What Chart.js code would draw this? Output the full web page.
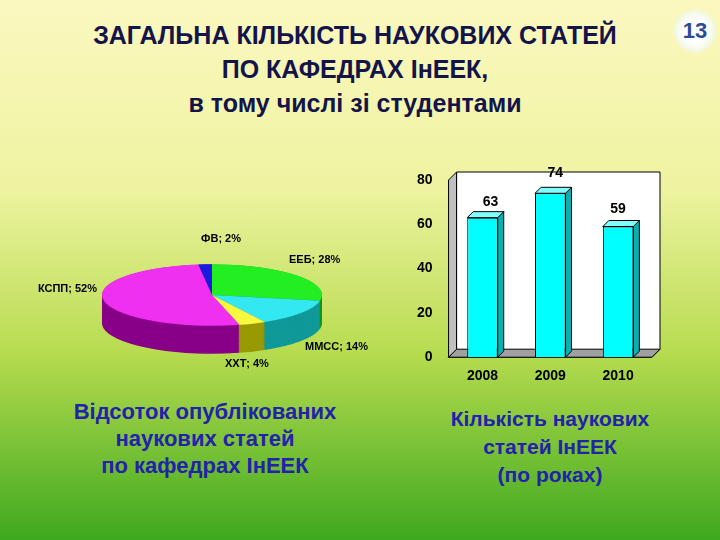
<!DOCTYPE html><html><head><meta charset="utf-8">
<script src="https://cdn.jsdelivr.net/npm/chart.js"></script>
<style>
body{margin:0;width:720px;height:540px;overflow:hidden;font-family:"Liberation Sans",Arial,sans-serif;}
#bg{position:absolute;left:0;top:0;width:720px;height:540px;background:linear-gradient(#fbf8c0 0%,#eef3a0 35%,#b8dc50 65%,#3ea81e 100%);}
.t{position:absolute;color:#14144a;font-weight:bold;text-align:center;white-space:nowrap}
#num{position:absolute;left:674px;top:10px;width:42px;height:42px;border-radius:50%;background:radial-gradient(#fff 40%,#e0f0c0);color:#2a4a9a;font:bold 22px "Liberation Sans";text-align:center;line-height:42px}
</style></head><body><div id="bg"></div>
<div class="t" style="left:20px;width:670px;top:18px;font-size:25px;line-height:34px">ЗАГАЛЬНА КІЛЬКІСТЬ НАУКОВИХ СТАТЕЙ<br>ПО КАФЕДРАХ ІнЕЕК,<br>в тому числі зі студентами</div>
<div id="num">13</div>
<div class="t" style="left:40px;width:330px;top:398px;font-size:22px;line-height:27px;color:#2222aa">Відсоток опублікованих<br>наукових статей<br>по кафедрах ІнЕЕК</div>
<div class="t" style="left:400px;width:300px;top:405px;font-size:21px;line-height:28px;color:#2222aa">Кількість наукових<br>статей ІнЕЕК<br>(по роках)</div>
<div style="position:absolute;left:0px;top:185px;width:424px;height:220px"><canvas id="pie"></canvas></div>
<div style="position:absolute;left:395px;top:160px;width:290px;height:228px"><canvas id="bar"></canvas></div>
<script>
const pieLabels=["ФВ","ЕЕБ","ММСС","ХХТ","КСПП"];
const pieValues=[2,28,14,4,52];
const pieColors=["#1a1ae0","#22ee22","#33e8f0","#f8f840","#f030f0"];
const sideColors=["#101090","#119911","#119999","#999900","#880088"];
const years=["2008","2009","2010"];
const counts=[63,74,59];
const F="Liberation Sans";
const squash={id:'squash',
 beforeDatasetsDraw(c){const ctx=c.ctx,m=c.getDatasetMeta(0),a=m.data[0];
  ctx.save();ctx.translate(a.x,a.y);ctx.scale(1,0.28);ctx.translate(-a.x,-a.y);
  const depth=100;
  for(let d=depth;d>0;d-=3){m.data.forEach((e,i)=>{ctx.save();ctx.translate(0,d);ctx.fillStyle=sideColors[i];
   ctx.beginPath();ctx.moveTo(e.x,e.y);ctx.arc(e.x,e.y,e.outerRadius,e.startAngle,e.endAngle);ctx.closePath();ctx.fill();ctx.restore();});}
 },
 afterDatasetsDraw(c){const ctx=c.ctx,m=c.getDatasetMeta(0);ctx.restore();
  const a=m.data[0];ctx.font="bold 11px "+F;ctx.fillStyle="#000";
  const pos=[[a.x+29,a.y-53,'right'],[a.x+77,a.y-32,'left'],[a.x+93,a.y+55,'left'],[a.x+13,a.y+72,'left'],[a.x-115,a.y-3,'right']];
  pieLabels.forEach((l,i)=>{ctx.textAlign=pos[i][2];ctx.fillText(l+"; "+pieValues[i]+"%",pos[i][0],pos[i][1]);});
 }};
new Chart(document.getElementById('pie'),{type:'pie',data:{labels:pieLabels,datasets:[{data:pieValues,backgroundColor:pieColors,borderWidth:0}]},
 options:{animation:false,responsive:true,maintainAspectRatio:false,rotation:-7.2,layout:{padding:{left:102,right:102}},
 plugins:{legend:{display:false},tooltip:{enabled:false}}},plugins:[squash]});
const bar3d={id:'bar3d',
 beforeDatasetsDraw(c){const ctx=c.ctx,ca=c.chartArea;ctx.save();ctx.fillStyle="#fff";ctx.strokeStyle="#000";ctx.lineWidth=1;
  ctx.beginPath();ctx.moveTo(ca.left,ca.bottom);ctx.lineTo(ca.left+8,ca.bottom-8);ctx.lineTo(ca.left+8,ca.top-8);ctx.lineTo(ca.right+8,ca.top-8);ctx.lineTo(ca.right+8,ca.bottom-8);ctx.lineTo(ca.right,ca.bottom);ctx.closePath();ctx.fill();ctx.stroke();
  ctx.fillStyle="#a0a0a0";ctx.beginPath();ctx.moveTo(ca.left,ca.bottom);ctx.lineTo(ca.left+8,ca.bottom-8);ctx.lineTo(ca.right+8,ca.bottom-8);ctx.lineTo(ca.right,ca.bottom);ctx.closePath();ctx.fill();ctx.stroke();
  ctx.fillStyle="#c0c0c0";ctx.beginPath();ctx.moveTo(ca.left,ca.top);ctx.lineTo(ca.left+8,ca.top-8);ctx.lineTo(ca.left+8,ca.bottom-8);ctx.lineTo(ca.left,ca.bottom);ctx.closePath();ctx.fill();ctx.stroke();
  const m=c.getDatasetMeta(0);m.data.forEach(e=>{const l=e.x+e.width/2,t=e.y;ctx.fillStyle="#0ab0b0";
   ctx.beginPath();ctx.moveTo(l,t);ctx.lineTo(l+6,t-6);ctx.lineTo(l+6,e.base-6);ctx.lineTo(l,e.base);ctx.closePath();ctx.fill();ctx.stroke();
   ctx.fillStyle="#80ffff";ctx.beginPath();ctx.moveTo(e.x-e.width/2,t);ctx.lineTo(e.x-e.width/2+6,t-6);ctx.lineTo(l+6,t-6);ctx.lineTo(l,t);ctx.closePath();ctx.fill();ctx.stroke();});
  ctx.restore();},
 afterDatasetsDraw(c){const ctx=c.ctx,m=c.getDatasetMeta(0);ctx.save();ctx.font="bold 14px "+F;ctx.fillStyle="#000";ctx.textAlign="center";
  const off=[[8,-12],[5,-16],[0,-14]];
  m.data.forEach((e,i)=>ctx.fillText(counts[i],e.x+off[i][0],e.y+off[i][1]));ctx.restore();}};
new Chart(document.getElementById('bar'),{type:'bar',data:{labels:years,datasets:[{data:counts,backgroundColor:"#00ffff",borderColor:"#000",borderWidth:1,barPercentage:0.45,categoryPercentage:1}]},
 options:{animation:false,responsive:true,maintainAspectRatio:false,layout:{padding:{top:20,right:33,left:14}},
 plugins:{legend:{display:false},tooltip:{enabled:false}},
 scales:{y:{min:0,max:80,ticks:{stepSize:20,color:"#000",padding:8,font:{family:F,size:14,weight:'bold'}},grid:{display:false},border:{display:false}},
  x:{ticks:{color:"#000",font:{family:F,size:14,weight:'bold'}},grid:{display:false},border:{display:false}}}},plugins:[bar3d]});
</script></body></html>
